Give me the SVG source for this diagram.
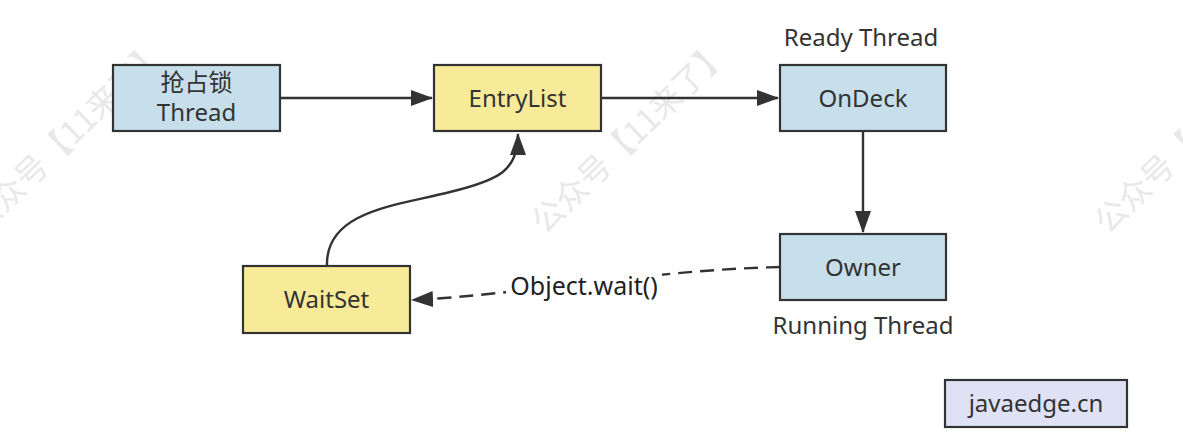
<svg xmlns="http://www.w3.org/2000/svg" width="1183" height="445" viewBox="0 0 1183 445">
<defs>
<style>
.blue{fill:#c7dfea;stroke:#333;stroke-width:2.2}
.yellow{fill:#f7ea98;stroke:#333;stroke-width:2.2}
.lbl{font-family:"Noto Sans","Noto Sans CJK SC",sans-serif;font-size:24px;fill:#333;text-anchor:middle}
.wm{font-family:"Noto Sans CJK SC",sans-serif;font-size:32px;fill:#e8e8e8;text-anchor:middle}
.edge{fill:none;stroke:#333;stroke-width:2.4}
</style>
<marker id="arrL" viewBox="0 0 22 16" refX="21" refY="8" markerWidth="22" markerHeight="16" markerUnits="userSpaceOnUse" orient="auto">
<path d="M0,0 L22,8 L0,16 Z" fill="#333"/>
</marker>
</defs>
<rect width="1183" height="445" fill="#fff"/>
<g id="watermark">
<text class="wm" transform="translate(75,145) rotate(-44)">公众号【11来了】</text>
<text class="wm" transform="translate(638,145) rotate(-44)">公众号【11来了】</text>
<text class="wm" transform="translate(1201,145) rotate(-44)">公众号【11来了】</text>
</g>
<g id="connectors">
<path class="edge" d="M280,98 L432,98" marker-end="url(#arrL)"/>
<path class="edge" d="M601,98 L778,98" marker-end="url(#arrL)"/>
<path class="edge" d="M863,131 L863,232" marker-end="url(#arrL)"/>
<path class="edge" d="M327,266 C325,210 400,205 450,192 C500,180 518,170 518,134" marker-end="url(#arrL)"/>
<path class="edge" d="M780,267 C650,270 520,295 412,300" stroke-dasharray="14,8" marker-end="url(#arrL)"/>
<rect x="506" y="272" width="156" height="28" fill="#fff"/>
<text class="lbl" x="584" y="295" style="font-size:25px;fill:#222">Object.wait()</text>
</g>
<g id="thread">
<rect class="blue" x="113" y="65" width="167" height="66"/>
<text class="lbl" x="196.5" y="91">抢占锁</text>
<text class="lbl" x="196.5" y="121">Thread</text>
</g>
<g id="entrylist">
<rect class="yellow" x="434" y="65" width="167" height="66"/>
<text class="lbl" x="517.5" y="107">EntryList</text>
</g>
<g id="ondeck">
<rect class="blue" x="780" y="65" width="166" height="66"/>
<text class="lbl" x="863" y="107">OnDeck</text>
<text class="lbl" x="861" y="46">Ready Thread</text>
</g>
<g id="owner">
<rect class="blue" x="780" y="234" width="166" height="66"/>
<text class="lbl" x="863" y="276">Owner</text>
<text class="lbl" x="863" y="334">Running Thread</text>
</g>
<g id="waitset">
<rect class="yellow" x="243" y="266" width="167" height="67"/>
<text class="lbl" x="326.5" y="308">WaitSet</text>
</g>
<g id="site">
<rect x="945" y="380" width="182" height="47" fill="#dfe1f5" stroke="#333" stroke-width="2.2"/>
<text class="lbl" x="1036" y="412">javaedge.cn</text>
</g>
</svg>
